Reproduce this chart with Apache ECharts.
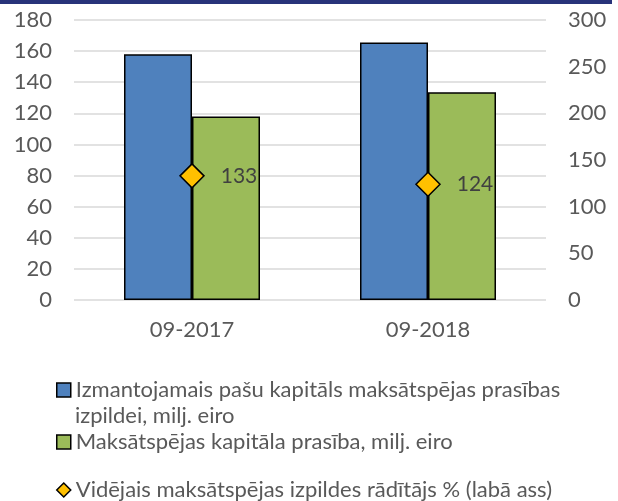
<!DOCTYPE html>
<html>
<head>
<meta charset="utf-8">
<script src="https://cdn.jsdelivr.net/npm/echarts@6/dist/echarts.min.js"></script>
<style>
html, body { margin: 0; padding: 0; background: #fff; }
#chart { width: 618px; height: 501px; }
</style>
</head>
<body>
<div id="chart"></div>
<script>
var categories = ['09-2017', '09-2018'];
var ownFunds = [158, 165.5];
var requirement = [118, 133.5];
var ratio = [133, 124];

var leftTicks = { min: 0, max: 180, interval: 20 };
var rightTicks = { min: 0, max: 300, interval: 50 };

var names = [
    'Izmantojamais pašu kapitāls maksātspējas prasības izpildei, milj. eiro',
    'Maksātspējas kapitāla prasība, milj. eiro',
    'Vidējais maksātspējas izpildes rādītājs % (labā ass)'
];

var txtColor = '#595959';
var fontFam = 'Lato, "Open Sans", sans-serif';
var legendFont = { fontSize: 22, color: txtColor, fontFamily: fontFam, lineHeight: 24 };

var myChart = echarts.init(document.getElementById('chart'));

var option = {
    animation: false,
    textStyle: { fontFamily: fontFam },
    grid: { left: 74, right: 72, top: 20, bottom: 201 },
    graphic: [
        { type: 'rect', left: 0, top: 0, shape: { width: 612, height: 4 }, style: { fill: '#28337a' } },
        { type: 'text', left: 75, top: 404,
          style: { text: 'izpildei, milj. eiro', fill: txtColor, fontSize: 22, fontFamily: fontFam, lineHeight: 24 } }
    ],
    legend: [
        {
            left: 56, top: 378, padding: 0, itemWidth: 14, itemHeight: 14,
            textStyle: legendFont,
            formatter: function () { return 'Izmantojamais pašu kapitāls maksātspējas prasības'; },
            data: [{ name: names[0], icon: 'rect', itemStyle: { borderColor: '#000', borderWidth: 1.5 } }]
        },
        {
            left: 56, top: 430, padding: 0, itemWidth: 14, itemHeight: 14,
            textStyle: legendFont,
            data: [{ name: names[1], icon: 'rect', itemStyle: { borderColor: '#000', borderWidth: 1.5 } }]
        },
        {
            left: 56, top: 478, padding: 0, itemWidth: 14, itemHeight: 14,
            textStyle: legendFont,
            data: [{ name: names[2], icon: 'diamond', itemStyle: { borderColor: '#000', borderWidth: 1.5 } }]
        }
    ],
    xAxis: {
        type: 'category',
        data: categories,
        axisLine: { show: false },
        axisTick: { show: false },
        axisLabel: { color: txtColor, fontSize: 22, margin: 19 }
    },
    yAxis: [
        {
            type: 'value',
            min: leftTicks.min, max: leftTicks.max, interval: leftTicks.interval,
            axisLabel: { color: txtColor, fontSize: 22, margin: 22 },
            splitLine: { lineStyle: { color: '#d9d9d9', width: 1.5 } }
        },
        {
            type: 'value',
            min: rightTicks.min, max: rightTicks.max, interval: rightTicks.interval,
            axisLabel: { color: txtColor, fontSize: 22, margin: 22 },
            splitLine: { show: false }
        }
    ],
    series: [
        {
            name: names[0], type: 'bar', barWidth: 68, barGap: '0%',
            itemStyle: { color: '#4f81bd', borderColor: '#000', borderWidth: 1.5 },
            data: ownFunds
        },
        {
            name: names[1], type: 'bar', barWidth: 68, barGap: '0%',
            itemStyle: { color: '#9bbb59', borderColor: '#000', borderWidth: 1.5 },
            data: requirement
        },
        {
            name: names[2], type: 'line', yAxisIndex: 1,
            symbol: 'diamond', symbolSize: 24,
            lineStyle: { width: 0 },
            itemStyle: { color: '#ffc000', borderColor: '#000', borderWidth: 1.5 },
            label: { show: true, position: 'right', distance: 16, color: '#404040', fontSize: 21 },
            z: 5,
            data: ratio
        }
    ]
};
myChart.setOption(option);
</script>
</body>
</html>
